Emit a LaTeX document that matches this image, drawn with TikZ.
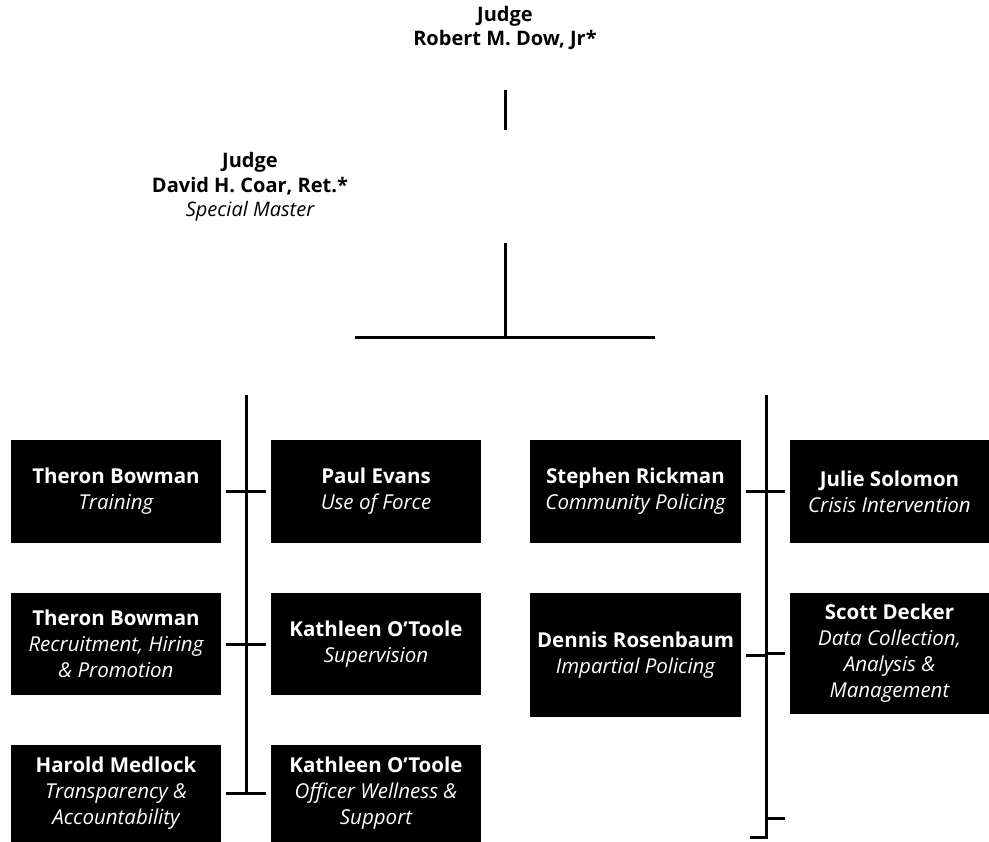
\documentclass[tikz,border=0pt]{standalone}
\usepackage{fontspec}
\setmainfont{Open Sans}
\usetikzlibrary{positioning}

\begin{document}
\begin{tikzpicture}[x=1pt,y=-1pt,
	head/.style={align=center,inner sep=0pt,font=\fontsize{20}{24.5}\selectfont},
	box/.style={fill=black,text=white,inner sep=0pt,align=center,
		font=\fontsize{20.5}{26}\selectfont},
	colbox/.style={box,minimum width=210pt,minimum height=103pt},
	link/.style={line width=3pt}]
	\useasboundingbox (0,0) rectangle (989,842);
	% judges
	\node[head] (dow) at (505,28) {\bfseries Judge\\\bfseries Robert M. Dow, Jr*};
	\node[head] (coar) at (250,187) {\bfseries Judge\\\bfseries David H. Coar, Ret.*\\\itshape Special Master};
	\coordinate (d1) at (505,90);
	\coordinate (d2) at (505,130);
	\coordinate (m1) at (505,243);
	\coordinate (m2) at (505,338);
	\draw[link] (d1) -- (d2);
	\draw[link] (m1) -- (m2);
	\draw[link] (m2) -- ++(-150,0) (m2) -- ++(150,0);
	% left group
	\node[colbox] (bowman1) at (116,491.5) {\bfseries Theron Bowman\\\itshape Training};
	\node[colbox] (evans) at (376,491.5) {\bfseries Paul Evans\\\itshape Use of Force};
	\node[colbox,minimum height=102pt] (bowman2) at (116,644) {\bfseries Theron Bowman\\\itshape Recruitment, Hiring\\\itshape \& Promotion};
	\node[colbox,minimum height=102pt] (otoole1) at (376,644) {\bfseries Kathleen O’Toole\\\itshape Supervision};
	\node[colbox,minimum height=97pt] (medlock) at (116,793.5) {\bfseries Harold Medlock\\\itshape Transparency \&\\\itshape Accountability};
	\node[colbox,minimum height=97pt] (otoole2) at (376,793.5) {\bfseries Kathleen O’Toole\\\itshape Officer Wellness \&\\\itshape Support};
	\coordinate (ls) at (246,395);
	\draw[link] (ls) -- (ls |- medlock.east);
	\foreach \a/\b in {bowman1/evans,bowman2/otoole1,medlock/otoole2}
		\draw[link] ([xshift=5pt]\a.east) -- ([xshift=-5pt]\b.west);
	% right group
	\node[box,minimum width=211pt,minimum height=103pt] (rickman) at (635.5,491.5) {\bfseries Stephen Rickman\\\itshape Community Policing};
	\node[box,minimum width=199pt,minimum height=103pt] (solomon) at (889.5,491.5) {\bfseries Julie Solomon\\\itshape Crisis Intervention};
	\node[box,minimum width=211pt,minimum height=124pt] (rosen) at (635.5,655) {\bfseries Dennis Rosenbaum\\\itshape Impartial Policing};
	\node[box,minimum width=199pt,minimum height=121pt] (decker) at (889.5,653.5) {\bfseries Scott Decker\\\itshape Data Collection,\\\itshape Analysis \&\\\itshape Management};
	\coordinate (rs) at (766,395);
	\coordinate (rb) at (766,837);
	\draw[link] (rs) -- (rb) -- ++(-16,0);
	\draw[link] ([xshift=5pt]rickman.east) -- ([xshift=-5pt]solomon.west);
	\draw[link] ([xshift=5pt]rosen.east) -- (rosen.east -| rs);
	\draw[link] (rs |- decker.west) -- ([xshift=-5pt]decker.west);
	\draw[link] (766,818) -- ++(19,0);
\end{tikzpicture}
\end{document}
